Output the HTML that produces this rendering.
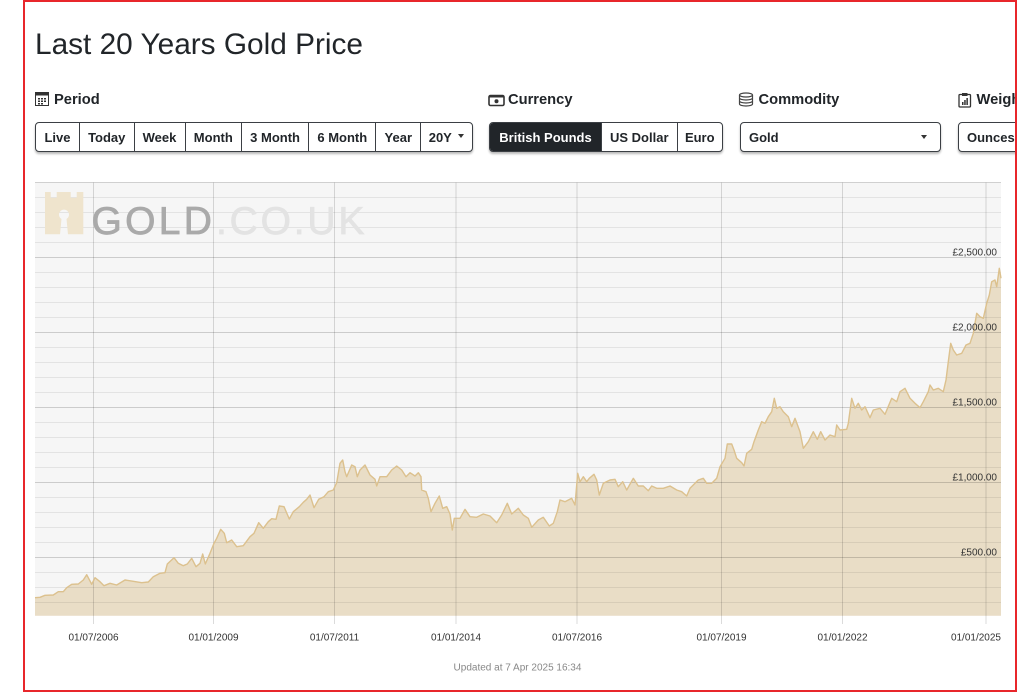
<!DOCTYPE html>
<html><head><meta charset="utf-8">
<style>
html,body{margin:0;padding:0;background:#fff;}
body{width:1020px;height:694px;overflow:hidden;position:relative;font-family:"Liberation Sans",Arial,sans-serif;color:#212529;}
#frame{position:absolute;left:23px;top:0;width:994px;height:692px;box-sizing:border-box;border:2px solid #e8262b;overflow:hidden;}
#inner{position:absolute;left:-25px;top:-2px;width:1020px;height:694px;}
.abs{position:absolute;white-space:nowrap;}
.title{left:35px;top:30.3px;font-size:29.8px;line-height:1;color:#212529;}
.hdr{font-size:14.7px;font-weight:bold;line-height:1;top:92.8px;color:#212529;}
.grp{position:absolute;top:122px;height:30px;box-sizing:border-box;border:1px solid #3b3f44;border-radius:4px;box-shadow:0 2px 2px rgba(0,0,0,.28);display:flex;overflow:hidden;background:#fff;}
.btn{flex:none;height:28px;display:flex;align-items:center;justify-content:center;font-size:13px;font-weight:bold;color:#212529;box-sizing:border-box;border-left:1px solid #3b3f44;}
.btn:first-child{border-left:none;}
.act{background:#212529;color:#fff;}
.caret{display:inline-block;width:0;height:0;border-left:3.5px solid transparent;border-right:3.5px solid transparent;border-top:4px solid #333;margin-left:6px;vertical-align:middle;position:relative;top:-1px;}
svg text{font-family:"Liberation Sans",Arial,sans-serif;}
</style></head>
<body>
<div id="frame"><div id="inner">

<div class="abs title">Last 20 Years Gold Price</div>

<!-- Period header -->
<svg class="abs" style="left:35px;top:92px" width="15" height="15" viewBox="0 0 15 15">
<rect x="0.5" y="0.5" width="13" height="13" fill="none" stroke="#333" stroke-width="1"/>
<rect x="0.5" y="0.5" width="13" height="3" fill="#333"/>
<g fill="#333"><rect x="3" y="6" width="2" height="1.5"/><rect x="6" y="6" width="2" height="1.5"/><rect x="9" y="6" width="2" height="1.5"/>
<rect x="3" y="8.5" width="2" height="1.5"/><rect x="6" y="8.5" width="2" height="1.5"/><rect x="9" y="8.5" width="2" height="1.5"/>
<rect x="3" y="11" width="2" height="1.5"/><rect x="6" y="11" width="2" height="1.5"/></g>
</svg>
<div class="abs hdr" style="left:54px">Period</div>

<!-- Currency header -->
<svg class="abs" style="left:488px;top:93.5px" width="18" height="13" viewBox="0 0 18 13">
<rect x="1" y="1.5" width="15" height="10" rx="1.5" fill="none" stroke="#333" stroke-width="1.6"/>
<rect x="1" y="1.5" width="15" height="2" fill="#333"/>
<circle cx="8.5" cy="7.3" r="2" fill="#333"/>
</svg>
<div class="abs hdr" style="left:508px">Currency</div>

<!-- Commodity header -->
<svg class="abs" style="left:738px;top:92px" width="17" height="15" viewBox="0 0 17 15">
<g fill="none" stroke="#444" stroke-width="1.2">
<ellipse cx="8" cy="3" rx="6.5" ry="2"/>
<path d="M1.5 3 v3 c0 1.2 3 2 6.5 2 s6.5-.8 6.5-2 v-3"/>
<path d="M1.5 6 v3 c0 1.2 3 2 6.5 2 s6.5-.8 6.5-2 v-3"/>
<path d="M1.5 9 v3 c0 1.2 3 2 6.5 2 s6.5-.8 6.5-2 v-3"/>
</g>
</svg>
<div class="abs hdr" style="left:758.5px">Commodity</div>

<!-- Weight header -->
<svg class="abs" style="left:958px;top:92px" width="15" height="16" viewBox="0 0 15 16">
<rect x="1" y="2.5" width="11.5" height="12.5" rx="1" fill="none" stroke="#333" stroke-width="1.3"/>
<rect x="4" y="1" width="5.5" height="3" fill="#333"/>
<rect x="4" y="10" width="1.5" height="3" fill="#333"/><rect x="6.2" y="8" width="1.5" height="5" fill="#333"/><rect x="8.4" y="6" width="1.5" height="7" fill="#333"/>
</svg>
<div class="abs hdr" style="left:976.5px">Weight</div>

<!-- Period buttons -->
<div class="grp" style="left:35px;width:437.5px">
<div class="btn" style="width:43px">Live</div>
<div class="btn" style="width:54.5px">Today</div>
<div class="btn" style="width:51px">Week</div>
<div class="btn" style="width:56.6px">Month</div>
<div class="btn" style="width:67px">3 Month</div>
<div class="btn" style="width:67.4px">6 Month</div>
<div class="btn" style="width:44.6px">Year</div>
<div class="btn" style="flex:1">20Y<span class="caret"></span></div>
</div>

<!-- Currency buttons -->
<div class="grp" style="left:489px;width:234px">
<div class="btn act" style="width:111px">British Pounds</div>
<div class="btn" style="width:75.5px">US Dollar</div>
<div class="btn" style="flex:1">Euro</div>
</div>

<!-- Commodity select -->
<div class="grp" style="left:740px;width:201px">
<div class="btn" style="width:199px;justify-content:flex-start;padding-left:8px;position:relative">Gold<span class="caret" style="position:absolute;left:180px;top:12px;margin:0"></span></div>
</div>

<!-- Weight select -->
<div class="grp" style="left:958px;width:120px">
<div class="btn" style="width:118px;justify-content:flex-start;padding-left:8px">Ounces</div>
</div>

<!-- Chart -->
<svg class="abs" style="left:0;top:0" width="1020" height="694" viewBox="0 0 1020 694">
<rect x="35" y="182.5" width="966" height="433.2" fill="#f6f6f6"/>
<path fill="#e9ddc6" d="M35,615.7 L35,597.7 L40,597.3 L45,595.3 L53.3,595 L58.3,591.7 L63.3,591.7 L66.7,587.7 L71.7,584.3 L78.3,584 L83.3,580 L86.7,574.7 L91.7,584.3 L95,577.7 L100,581.7 L104,585.7 L110,583.3 L116.7,585 L125,580 L133.3,581.3 L141.7,582.7 L148.3,582 L153.3,576.7 L160,573.3 L165,572.7 L167.3,564 L174,557.7 L178.3,563.3 L183.3,565.7 L187.3,564 L191.7,558.3 L196,566.7 L200,563.3 L202.7,554 L205.3,564 L210,553.3 L214,543.3 L216.7,538.3 L220.7,529.3 L224.3,533.3 L226.7,542.7 L231.7,540 L236.7,546.7 L243.3,545.7 L250,536.7 L254,533.3 L258.7,522.7 L263.3,528.3 L268.3,521.7 L271.7,518.7 L276,519.3 L279.3,506 L284,506.7 L289.3,519 L293.3,511.7 L299.3,506.7 L303.3,502.3 L306.7,499.3 L310,495 L314,507.7 L318.7,499.3 L324,496.7 L328.3,491.7 L333.3,490 L336.7,482.7 L340,463.3 L342.7,460 L345,471.7 L346.7,476.7 L351.7,465 L355,466.7 L357.3,476.7 L360,470 L365,465 L370,475 L375,479.3 L376.7,486 L380,476.7 L386.7,476.7 L391.7,470 L396.7,466 L401.7,470 L406,476.7 L410,472.7 L415,476 L418.3,472.7 L421,476.7 L421.7,490 L426,491.7 L428.3,498.3 L431,511.7 L435,503.3 L439.3,496 L442.7,508.3 L446.7,506.7 L450,514 L452.3,530 L454.3,518.3 L460,518.3 L465,509.3 L470,516.7 L476.7,517.3 L483.3,514 L490,516 L496.7,522.7 L501.7,515 L507.3,503.3 L511.7,514 L518.3,508.3 L523.3,515 L528.3,518.3 L531.7,527.3 L538.3,520 L543.3,517.3 L549.3,526 L553.3,523.3 L557.3,511.7 L560,500 L565,501.7 L571.7,498.3 L575,505 L577.7,473.3 L580,481.7 L583.3,476.7 L586.7,481.7 L589.3,478.3 L594,474.3 L596.7,480 L599.3,495 L603.3,483.3 L610,480 L615,479.3 L618.3,486.7 L622.7,481.7 L626.7,490 L633.3,478.3 L638.3,486 L643.3,486 L648.3,490.7 L651.7,486 L656.7,488.3 L663.3,488.3 L670,486 L676.7,490 L681.7,491.7 L686.7,496 L690,488.3 L695,483.3 L698.3,480 L703.3,478.3 L706.7,483.3 L711.7,483.3 L716.7,478.3 L720,466.7 L725,458.3 L727.3,444 L731.7,444 L734,450 L736.7,458.3 L741.7,462.7 L744,466 L746.7,453.3 L751.7,449.3 L754,441.7 L758.3,430 L761.7,421.7 L765,423.3 L768.3,416.7 L771.7,411.7 L774.3,398.3 L776.7,408.3 L780,406.7 L783.3,411.7 L788.3,416.7 L791.7,426.7 L795,418.3 L800,431.7 L803.3,448.3 L808.3,441.7 L813.3,431.7 L817.3,439.3 L820.7,431.7 L825,440 L830,435 L835,436.7 L836.7,425 L840,430 L846.7,429.3 L848.3,423.3 L851.7,398.3 L855,408.3 L858.3,403.3 L861.7,410 L865,406.7 L870,417.7 L873.3,410 L880,408.3 L885,414.3 L891.7,398.3 L896.7,401.7 L900,391.7 L905,388.3 L910,398.3 L915,403.3 L920,407.7 L923.3,401.7 L928.3,391.7 L930,385 L933.3,390 L938.3,388.3 L943.3,391.7 L946,380 L948.3,361.7 L950.7,343.3 L953.3,350 L956.7,355 L961.7,353.3 L966,345 L970,343.3 L973.3,333.3 L976.7,313.3 L980,316.7 L983.3,318.3 L986.7,303.3 L989.3,295 L991.7,281.7 L995,280 L996.7,286.7 L999.3,268.3 L1001,278.3 L1001,615.7 Z"/>
<!-- horizontal grid -->
<g stroke="rgba(0,0,0,0.075)" stroke-width="1">
<line x1="35" x2="1001" y1="197.5" y2="197.5"/><line x1="35" x2="1001" y1="212.5" y2="212.5"/><line x1="35" x2="1001" y1="227.5" y2="227.5"/><line x1="35" x2="1001" y1="242.5" y2="242.5"/>
<line x1="35" x2="1001" y1="272.5" y2="272.5"/><line x1="35" x2="1001" y1="287.5" y2="287.5"/><line x1="35" x2="1001" y1="302.5" y2="302.5"/><line x1="35" x2="1001" y1="317.5" y2="317.5"/>
<line x1="35" x2="1001" y1="347.5" y2="347.5"/><line x1="35" x2="1001" y1="362.5" y2="362.5"/><line x1="35" x2="1001" y1="377.5" y2="377.5"/><line x1="35" x2="1001" y1="392.5" y2="392.5"/>
<line x1="35" x2="1001" y1="422.5" y2="422.5"/><line x1="35" x2="1001" y1="437.5" y2="437.5"/><line x1="35" x2="1001" y1="452.5" y2="452.5"/><line x1="35" x2="1001" y1="467.5" y2="467.5"/>
<line x1="35" x2="1001" y1="497.5" y2="497.5"/><line x1="35" x2="1001" y1="512.5" y2="512.5"/><line x1="35" x2="1001" y1="527.5" y2="527.5"/><line x1="35" x2="1001" y1="542.5" y2="542.5"/>
<line x1="35" x2="1001" y1="572.5" y2="572.5"/><line x1="35" x2="1001" y1="587.5" y2="587.5"/><line x1="35" x2="1001" y1="602.5" y2="602.5"/>
</g>
<g stroke="rgba(0,0,0,0.17)" stroke-width="1">
<line x1="35" x2="1001" y1="182.5" y2="182.5"/>
<line x1="35" x2="1001" y1="257.5" y2="257.5"/><line x1="35" x2="1001" y1="332.5" y2="332.5"/><line x1="35" x2="1001" y1="407.5" y2="407.5"/><line x1="35" x2="1001" y1="482.5" y2="482.5"/><line x1="35" x2="1001" y1="557.5" y2="557.5"/>
</g>
<!-- vertical grid -->
<g stroke="rgba(0,0,0,0.14)" stroke-width="1">
<line x1="93.5" x2="93.5" y1="182.5" y2="624"/><line x1="213.5" x2="213.5" y1="182.5" y2="624"/><line x1="334.5" x2="334.5" y1="182.5" y2="624"/><line x1="456" x2="456" y1="182.5" y2="624"/>
<line x1="577" x2="577" y1="182.5" y2="624"/><line x1="721.5" x2="721.5" y1="182.5" y2="624"/><line x1="842.5" x2="842.5" y1="182.5" y2="624"/><line x1="986" x2="986" y1="182.5" y2="624"/>
</g>
<!-- watermark -->
<g fill="#efe4cd">
<path d="M45,192 L50.7,192 L50.7,197.7 L56.7,197.7 L56.7,192 L70.7,192 L70.7,197.7 L76.7,197.7 L76.7,192 L83.3,192 L83.3,234.3 L68,234.3 L66.5,219 A5,5 0 1 0 61.5,219 L60,234.3 L45,234.3 Z"/>
</g>
<text x="91.5" y="234" font-size="39" letter-spacing="3.3" fill="#aaaaaa" stroke="#aaaaaa" stroke-width="0.8">GOLD</text>
<text x="216" y="234" font-size="39" letter-spacing="2.8" fill="#e3e3e3" stroke="#e3e3e3" stroke-width="0.8">.CO.UK</text>
<!-- price line -->
<polyline fill="none" stroke="#dcc18e" stroke-width="1.4" stroke-linejoin="round" points="35,597.7 40,597.3 45,595.3 53.3,595 58.3,591.7 63.3,591.7 66.7,587.7 71.7,584.3 78.3,584 83.3,580 86.7,574.7 91.7,584.3 95,577.7 100,581.7 104,585.7 110,583.3 116.7,585 125,580 133.3,581.3 141.7,582.7 148.3,582 153.3,576.7 160,573.3 165,572.7 167.3,564 174,557.7 178.3,563.3 183.3,565.7 187.3,564 191.7,558.3 196,566.7 200,563.3 202.7,554 205.3,564 210,553.3 214,543.3 216.7,538.3 220.7,529.3 224.3,533.3 226.7,542.7 231.7,540 236.7,546.7 243.3,545.7 250,536.7 254,533.3 258.7,522.7 263.3,528.3 268.3,521.7 271.7,518.7 276,519.3 279.3,506 284,506.7 289.3,519 293.3,511.7 299.3,506.7 303.3,502.3 306.7,499.3 310,495 314,507.7 318.7,499.3 324,496.7 328.3,491.7 333.3,490 336.7,482.7 340,463.3 342.7,460 345,471.7 346.7,476.7 351.7,465 355,466.7 357.3,476.7 360,470 365,465 370,475 375,479.3 376.7,486 380,476.7 386.7,476.7 391.7,470 396.7,466 401.7,470 406,476.7 410,472.7 415,476 418.3,472.7 421,476.7 421.7,490 426,491.7 428.3,498.3 431,511.7 435,503.3 439.3,496 442.7,508.3 446.7,506.7 450,514 452.3,530 454.3,518.3 460,518.3 465,509.3 470,516.7 476.7,517.3 483.3,514 490,516 496.7,522.7 501.7,515 507.3,503.3 511.7,514 518.3,508.3 523.3,515 528.3,518.3 531.7,527.3 538.3,520 543.3,517.3 549.3,526 553.3,523.3 557.3,511.7 560,500 565,501.7 571.7,498.3 575,505 577.7,473.3 580,481.7 583.3,476.7 586.7,481.7 589.3,478.3 594,474.3 596.7,480 599.3,495 603.3,483.3 610,480 615,479.3 618.3,486.7 622.7,481.7 626.7,490 633.3,478.3 638.3,486 643.3,486 648.3,490.7 651.7,486 656.7,488.3 663.3,488.3 670,486 676.7,490 681.7,491.7 686.7,496 690,488.3 695,483.3 698.3,480 703.3,478.3 706.7,483.3 711.7,483.3 716.7,478.3 720,466.7 725,458.3 727.3,444 731.7,444 734,450 736.7,458.3 741.7,462.7 744,466 746.7,453.3 751.7,449.3 754,441.7 758.3,430 761.7,421.7 765,423.3 768.3,416.7 771.7,411.7 774.3,398.3 776.7,408.3 780,406.7 783.3,411.7 788.3,416.7 791.7,426.7 795,418.3 800,431.7 803.3,448.3 808.3,441.7 813.3,431.7 817.3,439.3 820.7,431.7 825,440 830,435 835,436.7 836.7,425 840,430 846.7,429.3 848.3,423.3 851.7,398.3 855,408.3 858.3,403.3 861.7,410 865,406.7 870,417.7 873.3,410 880,408.3 885,414.3 891.7,398.3 896.7,401.7 900,391.7 905,388.3 910,398.3 915,403.3 920,407.7 923.3,401.7 928.3,391.7 930,385 933.3,390 938.3,388.3 943.3,391.7 946,380 948.3,361.7 950.7,343.3 953.3,350 956.7,355 961.7,353.3 966,345 970,343.3 973.3,333.3 976.7,313.3 980,316.7 983.3,318.3 986.7,303.3 989.3,295 991.7,281.7 995,280 996.7,286.7 999.3,268.3 1001,278.3"/>
<!-- y labels -->
<g font-size="10" fill="#333" text-anchor="end">
<text x="997" y="255.3">£2,500.00</text>
<text x="997" y="330.3">£2,000.00</text>
<text x="997" y="405.3">£1,500.00</text>
<text x="997" y="480.3">£1,000.00</text>
<text x="997" y="555.3">£500.00</text>
</g>
<!-- x labels -->
<g font-size="10" fill="#333" text-anchor="middle">
<text x="93.5" y="640.3">01/07/2006</text>
<text x="213.5" y="640.3">01/01/2009</text>
<text x="334.5" y="640.3">01/07/2011</text>
<text x="456" y="640.3">01/01/2014</text>
<text x="577" y="640.3">01/07/2016</text>
<text x="721.5" y="640.3">01/07/2019</text>
<text x="842.5" y="640.3">01/01/2022</text>
<text x="1001" y="640.3" text-anchor="end">01/01/2025</text>
</g>
<text x="517.5" y="670.3" font-size="10" fill="#888" text-anchor="middle">Updated at 7 Apr 2025 16:34</text>
</svg>

</div></div>
</body></html>
